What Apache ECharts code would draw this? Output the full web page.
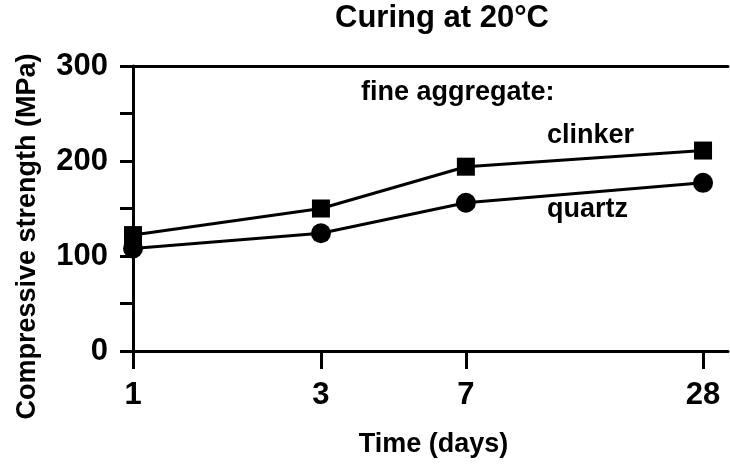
<!DOCTYPE html>
<html>
<head>
<meta charset="utf-8">
<script src="https://cdn.jsdelivr.net/npm/echarts@6/dist/echarts.min.js"></script>
<style>
  html, body { margin: 0; padding: 0; background: #fff; }
  #chart { width: 730px; height: 469px; }
</style>
</head>
<body>
<div id="chart"></div>
<script>
// days of curing and strength
var days = [1, 3, 7, 28];
var clinker = [122, 150, 194, 211];
var quartz = [108, 124, 156, 177];
var yTicks = [0, 100, 200, 300];

var font = 'Liberation Sans, Arial, sans-serif';

function pairs(ys) {
  return days.map(function (d, i) { return [d, ys[i]]; });
}

var myChart = echarts.init(document.getElementById('chart'));

var option = {
  backgroundColor: '#fff',
  animation: false,
  title: {
    text: 'Curing at 20°C',
    left: 330,
    top: -2,
    textStyle: { fontFamily: font, fontSize: 31, fontWeight: 'bold', color: '#000' }
  },
  grid: { left: 133, right: 2, top: 66, bottom: 118 },
  xAxis: [
    {
      type: 'log',
      logBase: 10,
      min: 1,
      max: 32.4,
      name: 'Time (days)',
      nameLocation: 'middle',
      nameGap: 80,
      nameTextStyle: { fontFamily: font, fontSize: 27, fontWeight: 'bold', color: '#000', padding: [0, 0, 0, 6] },
      axisLine: { lineStyle: { color: '#000', width: 3 } },
      axisTick: { customValues: days, length: 18, lineStyle: { color: '#000', width: 3 } },
      axisLabel: {
        customValues: days,
        margin: 29,
        fontFamily: font,
        fontSize: 31,
        fontWeight: 'bold',
        color: '#000'
      },
      splitLine: { show: false },
      minorTick: { show: false }
    },
    {
      // plain line along the top of the plot
      type: 'value',
      position: 'top',
      min: 0,
      max: 1,
      axisLine: { show: true, lineStyle: { color: '#000', width: 3 } },
      axisTick: { show: false },
      axisLabel: { show: false },
      splitLine: { show: false }
    }
  ],
  yAxis: {
    type: 'value',
    min: 0,
    max: 300,
    interval: 50,
    name: 'Compressive strength (MPa)',
    nameLocation: 'middle',
    nameGap: 92,
    nameTextStyle: { fontFamily: font, fontSize: 27, fontWeight: 'bold', color: '#000', padding: [0, 56, 0, 0] },
    axisLine: { show: true, lineStyle: { color: '#000', width: 3 } },
    axisTick: { show: true, length: 13, lineStyle: { color: '#000', width: 3 } },
    axisLabel: {
      margin: 25,
      fontFamily: font,
      fontSize: 31,
      fontWeight: 'bold',
      color: '#000',
      formatter: function (v) { return yTicks.indexOf(v) >= 0 ? String(v) : ''; }
    },
    splitLine: { show: false }
  },
  graphic: [
    { type: 'text', left: 361, top: 79, style: { text: 'fine aggregate:', fontFamily: font, fontSize: 27, fontWeight: 'bold', fill: '#000' } },
    { type: 'text', left: 547, top: 122, style: { text: 'clinker', fontFamily: font, fontSize: 27, fontWeight: 'bold', fill: '#000' } },
    { type: 'text', left: 547, top: 196, style: { text: 'quartz', fontFamily: font, fontSize: 27, fontWeight: 'bold', fill: '#000' } }
  ],
  series: [
    {
      name: 'clinker',
      type: 'line',
      data: pairs(clinker),
      symbol: 'rect',
      symbolSize: 18,
      lineStyle: { color: '#000', width: 3 },
      itemStyle: { color: '#000' }
    },
    {
      name: 'quartz',
      type: 'line',
      data: pairs(quartz),
      symbol: 'circle',
      symbolSize: 20,
      lineStyle: { color: '#000', width: 3 },
      itemStyle: { color: '#000' }
    }
  ]
};

option && myChart.setOption(option);
</script>
</body>
</html>
